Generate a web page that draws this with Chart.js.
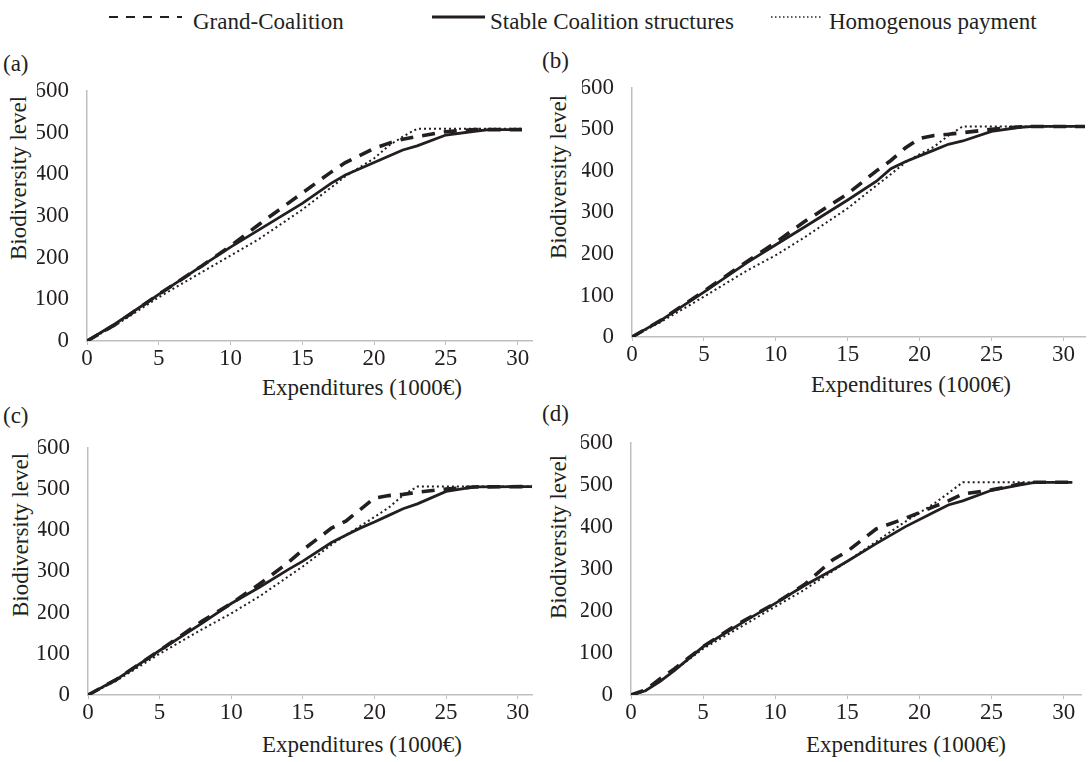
<!DOCTYPE html>
<html>
<head>
<meta charset="utf-8">
<script src="https://cdn.jsdelivr.net/npm/chart.js@4.4.1/dist/chart.umd.min.js"></script>
<style>
  html, body { margin: 0; padding: 0; background: #fff; }
  body { width: 1091px; height: 762px; position: relative; overflow: hidden;
         font-family: "Liberation Serif", "DejaVu Serif", serif; color: #231f20; }
  .txt { position: absolute; font-size: 23px; line-height: 23px; white-space: nowrap; }
  .mid { transform: translate(-50%, -50%); }
  .vmid { transform: translateY(-50%); }
  .rot { transform: translate(-50%, -50%) rotate(-90deg); }
  canvas { position: absolute; }
  svg { position: absolute; overflow: visible; }
</style>
</head>
<body>

<!-- legend -->
<svg style="left:0;top:0" width="1091" height="30">
  <line x1="109" y1="17" x2="182" y2="17" stroke="#231f20" stroke-width="2" stroke-dasharray="9,8"></line>
  <line x1="432" y1="17" x2="485" y2="17" stroke="#231f20" stroke-width="3"></line>
  <line x1="771" y1="17" x2="823" y2="17" stroke="#231f20" stroke-width="1.5" stroke-dasharray="1.5,2.5"></line>
</svg>
<div class="txt vmid" style="left:193px;top:21px">Grand-Coalition</div>
<div class="txt vmid" style="left:490px;top:21px">Stable Coalition structures</div>
<div class="txt vmid" style="left:829px;top:21px">Homogenous payment</div>

<!-- panel letters -->
<div class="txt vmid" style="left:3px;top:63px">(a)</div>
<div class="txt vmid" style="left:542px;top:60px">(b)</div>
<div class="txt vmid" style="left:3px;top:415px">(c)</div>
<div class="txt vmid" style="left:542px;top:413px">(d)</div>

<!-- axis titles -->
<div class="txt rot" style="left:18px;top:178px">Biodiversity level</div>
<div class="txt rot" style="left:558px;top:177px">Biodiversity level</div>
<div class="txt rot" style="left:20px;top:535px">Biodiversity level</div>
<div class="txt rot" style="left:558px;top:537px">Biodiversity level</div>
<div class="txt mid" style="left:362px;top:387px">Expenditures (1000€)</div>
<div class="txt mid" style="left:911px;top:384px">Expenditures (1000€)</div>
<div class="txt mid" style="left:362px;top:744px">Expenditures (1000€)</div>
<div class="txt mid" style="left:906px;top:744px">Expenditures (1000€)</div>

<canvas id="chart-a"></canvas>
<canvas id="chart-b"></canvas>
<canvas id="chart-c"></canvas>
<canvas id="chart-d"></canvas>

<script>
// Values (expenditures in 1000€, biodiversity level)

// (a)
const expA    = [0, 2, 5, 8, 10, 12, 15, 17, 18, 20, 21, 22, 23, 25, 27, 28, 30.3];
const grandA  = [0, 40, 112, 180, 228, 280, 355, 405, 428, 462, 474, 484, 490, 502, 507, 507, 507];
const stableA = [0, 42, 112, 180, 225, 267, 330, 378, 398, 428, 443, 458, 468, 494, 503, 507, 507];
const homogA  = [0, 38, 105, 165, 205, 245, 315, 368, 395, 438, 468, 490, 509, 509, 509, 509, 509];

// (b)
const expB    = [0, 2, 5, 8, 10, 12, 15, 17, 18, 19, 20, 21, 22, 23, 25, 27, 28, 31.5];
const grandB  = [0, 40, 110, 182, 228, 278, 345, 400, 425, 455, 478, 485, 488, 492, 500, 506, 507, 507];
const stableB = [0, 40, 108, 179, 222, 265, 330, 375, 405, 422, 436, 450, 464, 472, 495, 505, 507, 507];
const homogB  = [0, 36, 97, 160, 197, 240, 310, 365, 392, 420, 440, 458, 485, 507, 507, 507, 507, 507];

// (c)
const expC    = [0, 2, 5, 8, 10, 12, 14, 15, 17, 18, 19, 20, 21, 22, 23, 25, 27, 31];
const grandC  = [0, 38, 108, 180, 222, 270, 322, 352, 405, 422, 450, 478, 484, 487, 492, 500, 505, 506];
const stableC = [0, 38, 108, 175, 222, 262, 305, 325, 370, 388, 405, 420, 436, 452, 464, 494, 505, 506];
const homogC  = [0, 35, 100, 160, 198, 240, 288, 312, 365, 388, 410, 432, 455, 485, 506, 506, 506, 506];

// (d)
const expD    = [0, 1, 2, 3, 5, 7, 8, 10, 12, 14, 15, 17, 19, 21, 22, 23, 25, 27, 28, 30.6];
const grandD  = [0, 12, 38, 62, 115, 160, 180, 218, 262, 322, 342, 395, 420, 448, 462, 478, 488, 502, 506, 506];
const stableD = [0, 10, 32, 58, 115, 157, 178, 218, 260, 298, 318, 360, 400, 435, 452, 462, 487, 500, 506, 506];
const homogD  = [0, 10, 33, 58, 110, 150, 170, 210, 250, 295, 318, 365, 412, 455, 480, 506, 506, 506, 506, 506];

// tick labels
const xTickValues = [0, 5, 10, 15, 20, 25, 30];
const yTickValues = [0, 100, 200, 300, 400, 500, 600];

const ink = "#231f20";
const axisGrey = "#bfbfbf";
const font = { family: "Liberation Serif", size: 23 };

// where each plot area sits on the page
const panels = [
  { id: "chart-a", x: expA, grand: grandA, stable: stableA, homog: homogA, xMax: 31,   L: 87,  R: 532,  T: 85,  B: 341 },
  { id: "chart-b", x: expB, grand: grandB, stable: stableB, homog: homogB, xMax: 31.5, L: 632, R: 1085, T: 82,  B: 337 },
  { id: "chart-c", x: expC, grand: grandC, stable: stableC, homog: homogC, xMax: 31,   L: 88,  R: 532,  T: 442, B: 695 },
  { id: "chart-d", x: expD, grand: grandD, stable: stableD, homog: homogD, xMax: 31.2, L: 631, R: 1081, T: 437, B: 695 }
];

const Y_W = 50, X_H = 40, PAD_T = 18, PAD_R = 8;

function points(xs, ys) {
  return xs.map((x, i) => ({ x: x, y: ys[i] }));
}

function drawPanel(p) {
  const canvas = document.getElementById(p.id);
  const left = p.L - Y_W, top = p.T - PAD_T;
  const w = p.R + PAD_R - left, h = p.B + X_H - top;
  canvas.style.left = left + "px";
  canvas.style.top = top + "px";
  canvas.width = w; canvas.height = h;
  canvas.style.width = w + "px"; canvas.style.height = h + "px";

  new Chart(canvas.getContext("2d"), {
    type: "line",
    data: {
      datasets: [
        { label: "Stable Coalition structures", data: points(p.x, p.stable),
          borderColor: ink, borderWidth: 2.8, pointRadius: 0, tension: 0 },
        { label: "Grand-Coalition", data: points(p.x, p.grand),
          borderColor: ink, borderWidth: 3.6, borderDash: [13, 9], pointRadius: 0, tension: 0 },
        { label: "Homogenous payment", data: points(p.x, p.homog),
          borderColor: ink, borderWidth: 2, borderDash: [2, 3], pointRadius: 0, tension: 0 }
      ]
    },
    options: {
      responsive: false,
      animation: false,
      layout: { padding: { top: PAD_T, right: PAD_R, left: 0, bottom: 0 } },
      plugins: { legend: { display: false }, tooltip: { enabled: false } },
      scales: {
        x: {
          type: "linear", min: 0, max: p.xMax,
          afterFit: s => { s.height = X_H; },
          afterBuildTicks: s => { s.ticks = xTickValues.map(v => ({ value: v })); },
          ticks: { color: ink, font: font, padding: 0, maxRotation: 0, autoSkip: false },
          grid: { display: true, drawOnChartArea: false, drawTicks: true, tickLength: 4, color: axisGrey },
          border: { display: true, color: axisGrey, width: 1.5 }
        },
        y: {
          min: 0, max: 600,
          afterFit: s => { s.width = Y_W; },
          afterBuildTicks: s => { s.ticks = yTickValues.map(v => ({ value: v })); },
          ticks: { color: ink, font: font, padding: 10 },
          grid: { display: false },
          border: { display: true, color: axisGrey, width: 1.5 }
        }
      }
    }
  });
}

panels.forEach(drawPanel);
</script>
</body>
</html>
